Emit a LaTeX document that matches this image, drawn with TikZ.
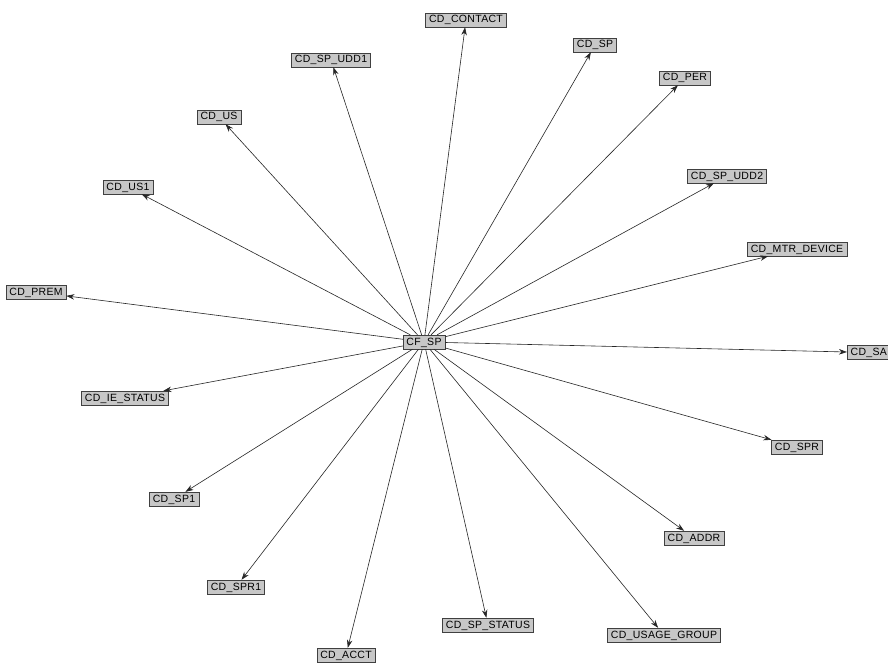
\documentclass[tikz,border=0pt]{standalone}
\usepackage{fontspec}
\setsansfont[LetterSpace=3]{Liberation Sans}
\usetikzlibrary{arrows.meta}

\begin{document}
\begin{tikzpicture}[
  x=1pt, y=-1pt,
  every node/.style={rectangle, draw=black!75, fill=black!22, font=\sffamily\fontsize{10.5}{11}\selectfont,
    inner xsep=3.5pt, inner ysep=2.5pt, text height=7.5pt, text depth=1.5pt},
  link/.style={draw=black!85, -{Stealth[length=8pt,width=5.5pt]}, line width=0.6pt}
]
\useasboundingbox (0,0) rectangle (888,663);
\clip (0,0) rectangle (888,663);
\fill[white] (0,0) rectangle (888,663);

\node (cfsp) at (424,342) {CF\_SP};

\node (contact)  at (466,20)  {CD\_CONTACT};
\node (udd1)     at (331,60)  {CD\_SP\_UDD1};
\node (sp)       at (595,45)  {CD\_SP};
\node (per)      at (685,78)  {CD\_PER};
\node (us)       at (219,117) {CD\_US};
\node (udd2)     at (727,176) {CD\_SP\_UDD2};
\node (us1)      at (128,187) {CD\_US1};
\node (mtr)      at (797,249) {CD\_MTR\_DEVICE};
\node (prem)     at (36,292)  {CD\_PREM};
\node[anchor=west, align=left, text width=48pt] (sa) at (847,352) {CD\_SA};
\node (iestatus) at (125,398) {CD\_IE\_STATUS};
\node (spr)      at (797,447) {CD\_SPR};
\node (sp1)      at (174,499) {CD\_SP1};
\node (addr)     at (694,538) {CD\_ADDR};
\node (spr1)     at (236,587) {CD\_SPR1};
\node (spstatus) at (488,625) {CD\_SP\_STATUS};
\node (usage)    at (664,635) {CD\_USAGE\_GROUP};
\node (acct)     at (346,655) {CD\_ACCT};

% edges out of the hub
\foreach \n in {contact,udd1,sp,per,us,udd2,us1,mtr,prem,iestatus,spr,sp1,addr,spr1,spstatus,usage,acct}
  \draw[link] (cfsp) -- (\n);
\draw[link] (cfsp) -- (sa.west);
\end{tikzpicture}
\end{document}
